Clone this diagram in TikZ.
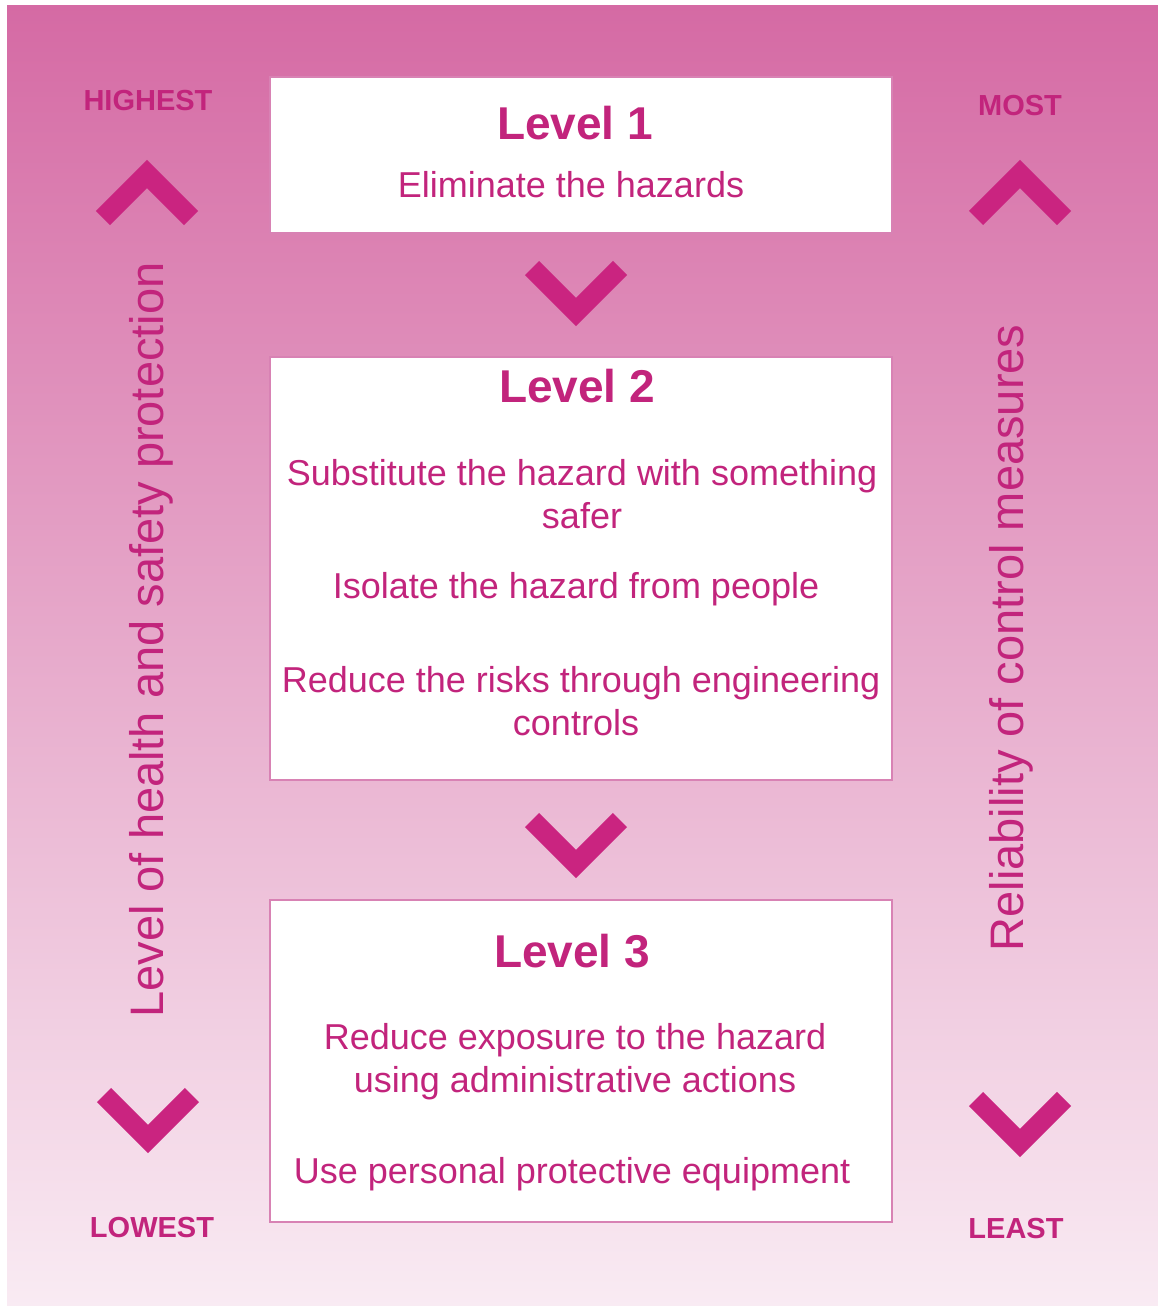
\documentclass[tikz,border=0pt]{standalone}
\usepackage{fontspec}
\setmainfont{Liberation Sans}
\definecolor{bgtop}{RGB}{213,106,164}
\definecolor{bgmid}{RGB}{232,166,204}
\definecolor{bgbot}{RGB}{249,235,243}
\definecolor{ink}{RGB}{194,36,124}
\definecolor{chevcol}{RGB}{202,36,128}
\definecolor{boxline}{RGB}{216,130,180}
\begin{document}
\begin{tikzpicture}[x=1pt,y=-1pt,
  levelbox/.style={draw=boxline, line width=1.5pt, fill=white, inner sep=0pt, minimum width=622pt},
  title/.style={anchor=base, text=ink, font=\fontsize{46}{55}\selectfont\bfseries},
  body/.style={anchor=base, text=ink, font=\fontsize{36}{43}\selectfont},
  sidelabel/.style={anchor=base, text=ink, font=\fontsize{29}{35}\selectfont\bfseries},
  axislabel/.style={anchor=base, rotate=90, text=ink, font=\fontsize{47}{56}\selectfont},
  chev/.style={draw=chevcol, line width=20pt, miter limit=10, line cap=butt}]
\useasboundingbox (0,0) rectangle (1158,1306);
\fill[white] (0,0) rectangle (1158,1306);
% background panel
\shade[top color=bgtop, middle color=bgmid, bottom color=bgbot] (7,6) rectangle (1158,1306);

% level boxes
\node[levelbox, minimum height=156pt] (l1) at (581,155) {};
\node[levelbox, minimum height=423pt] (l2) at (581,568.5) {};
\node[levelbox, minimum height=322pt] (l3) at (581,1061) {};

% level 1 text
\node[title] (t1) at (575,139) {Level 1};
\node[body] (e1) at (571,197) {Eliminate the hazards};
% level 2 text
\node[title] (t2) at (577,402) {Level 2};
\node[body] (s1) at (582,485) {Substitute the hazard with something};
\node[body] (s2) at (582,528) {safer};
\node[body] (i1) at (576,598) {Isolate the hazard from people};
\node[body] (r1) at (581,692) {Reduce the risks through engineering};
\node[body] (r2) at (576,735) {controls};
% level 3 text
\node[title] (t3) at (572,967) {Level 3};
\node[body] (x1) at (575,1049) {Reduce exposure to the hazard};
\node[body] (x2) at (575,1092) {using administrative actions};
\node[body] (p1) at (572,1183) {Use personal protective equipment};

% side labels
\node[sidelabel] (hi) at (148,110) {HIGHEST};
\node[sidelabel] (lo) at (152,1237) {LOWEST};
\node[sidelabel] (mo) at (1020,115) {MOST};
\node[sidelabel] (le) at (1016,1238) {LEAST};

% vertical axis texts
\node[axislabel] (ax1) at (163,640) {Level of health and safety protection};
\node[axislabel] (ax2) at (1023,638) {Reliability of control measures};

% chevrons
\draw[chev] (103,218) -- (147,174) -- (191,218);
\draw[chev] (976,218) -- (1020,174) -- (1064,218);
\draw[chev] (532,268) -- (576,312) -- (620,268);
\draw[chev] (532,820) -- (576,864) -- (620,820);
\draw[chev] (104,1095) -- (148,1139) -- (192,1095);
\draw[chev] (976,1099) -- (1020,1143) -- (1064,1099);
\end{tikzpicture}
\end{document}
